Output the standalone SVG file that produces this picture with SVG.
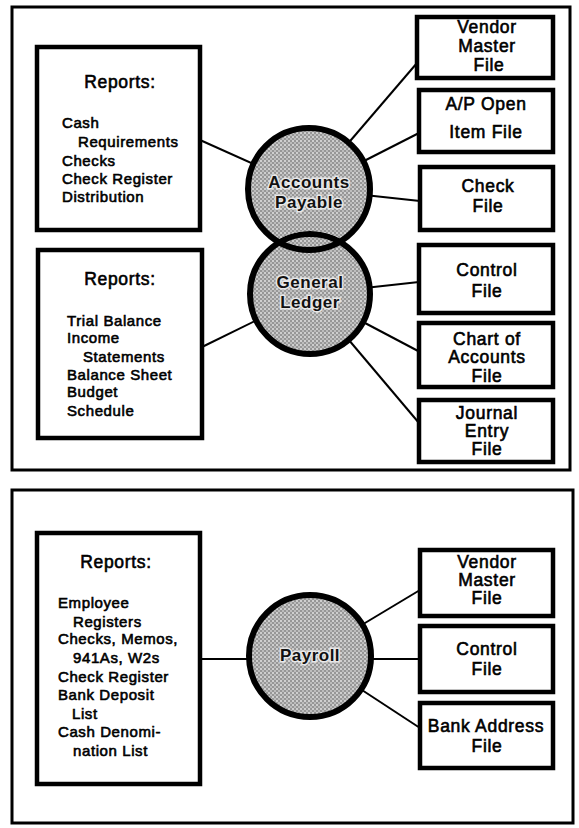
<svg xmlns="http://www.w3.org/2000/svg" width="579" height="828" viewBox="0 0 579 828">
<defs>
<pattern id="stip" width="4" height="4" patternUnits="userSpaceOnUse">
<rect width="4" height="4" fill="#979797"/>
<rect width="2" height="2" fill="#cfcfcf"/>
<rect x="2" y="2" width="2" height="2" fill="#bdbdbd"/>
</pattern>
<clipPath id="apClip"><path clip-rule="evenodd" d="M0 0H579V828H0Z M247 294 a63 63 0 1 0 126 0 a63 63 0 1 0 -126 0Z"/></clipPath>
</defs>
<style>
.panel{fill:none;stroke:#000;stroke-width:3}
.box{fill:#fff;stroke:#000;stroke-width:4.5}
.disc{fill:url(#stip);stroke:none}
.ring{fill:none;stroke:#000;stroke-width:6}
.conn line{stroke:#000;stroke-width:2}
text{font-family:"Liberation Sans",Arial,Helvetica,sans-serif;fill:#000;stroke:#000;stroke-width:0.6}
.h{font-size:17.5px;text-anchor:middle;letter-spacing:0.7px}
.l{font-size:15px;letter-spacing:0.6px}
.f{font-size:17.5px;text-anchor:middle;letter-spacing:0.7px}
.c{font-size:17px;font-weight:bold;text-anchor:middle;stroke:#e8e8e8;stroke-width:3;paint-order:stroke;letter-spacing:0.5px;fill:#111}
</style>
<rect width="579" height="828" fill="#fff"/>
<g id="panels">
<rect class="panel" x="12" y="7" width="558" height="463"/>
<rect class="panel" x="12" y="490" width="561" height="333"/>
</g>
<g id="connectors" class="conn">
<line x1="200" y1="140" x2="309" y2="189"/>
<line x1="417" y1="63" x2="309" y2="189"/>
<line x1="419" y1="133" x2="309" y2="189"/>
<line x1="420" y1="201" x2="309" y2="189"/>
<line x1="202" y1="347" x2="310" y2="294"/>
<line x1="419" y1="282" x2="310" y2="294"/>
<line x1="420" y1="352" x2="310" y2="294"/>
<line x1="419" y1="423" x2="310" y2="294"/>
<line x1="200" y1="659" x2="310" y2="659"/>
<line x1="420" y1="590" x2="310" y2="656"/>
<line x1="420" y1="659" x2="310" y2="659"/>
<line x1="420" y1="728" x2="310" y2="656"/>
</g>
<g id="reports-ap">
<rect class="box" x="37" y="47" width="163" height="183"/>
<text class="h" x="120" y="88">Reports:</text>
<text class="l" x="62" y="128">Cash</text>
<text class="l" x="78" y="147">Requirements</text>
<text class="l" x="62" y="166">Checks</text>
<text class="l" x="62" y="184">Check Register</text>
<text class="l" x="62" y="202">Distribution</text>
</g>
<g id="reports-gl">
<rect class="box" x="38" y="250" width="164" height="188"/>
<text class="h" x="120" y="285">Reports:</text>
<text class="l" x="67" y="326">Trial Balance</text>
<text class="l" x="67" y="343">Income</text>
<text class="l" x="83" y="362">Statements</text>
<text class="l" x="67" y="380">Balance Sheet</text>
<text class="l" x="67" y="397">Budget</text>
<text class="l" x="67" y="416">Schedule</text>
</g>
<g id="general-ledger">
<circle class="disc" cx="310" cy="294" r="60"/>
<circle class="ring" cx="310" cy="294" r="60"/>
<text class="c" x="310" y="288">General</text>
<text class="c" x="310" y="308">Ledger</text>
</g>
<g id="accounts-payable">
<circle class="disc" cx="309" cy="189" r="61" clip-path="url(#apClip)"/>
<circle class="ring" cx="309" cy="189" r="61"/>
<text class="c" x="309" y="188">Accounts</text>
<text class="c" x="309" y="208">Payable</text>
</g>
<g id="vendor-master-ap">
<rect class="box" x="417" y="17" width="136" height="61"/>
<text class="f" x="487" y="33">Vendor</text>
<text class="f" x="487" y="52">Master</text>
<text class="f" x="489" y="71">File</text>
</g>
<g id="ap-open-item">
<rect class="box" x="419" y="90" width="134" height="62"/>
<text class="f" x="486" y="110">A/P Open</text>
<text class="f" x="486" y="138">Item File</text>
</g>
<g id="check-file">
<rect class="box" x="420" y="167" width="133" height="63"/>
<text class="f" x="488" y="192">Check</text>
<text class="f" x="488" y="212">File</text>
</g>
<g id="control-file-gl">
<rect class="box" x="419" y="245" width="134" height="68"/>
<text class="f" x="487" y="276">Control</text>
<text class="f" x="487" y="297">File</text>
</g>
<g id="chart-of-accounts">
<rect class="box" x="419" y="323" width="134" height="64"/>
<text class="f" x="487" y="345">Chart of</text>
<text class="f" x="487" y="363">Accounts</text>
<text class="f" x="487" y="382">File</text>
</g>
<g id="journal-entry">
<rect class="box" x="419" y="400" width="134" height="62"/>
<text class="f" x="487" y="419">Journal</text>
<text class="f" x="487" y="437">Entry</text>
<text class="f" x="487" y="455">File</text>
</g>
<g id="reports-payroll">
<rect class="box" x="37" y="533" width="163" height="251"/>
<text class="h" x="116" y="568">Reports:</text>
<text class="l" x="58" y="608">Employee</text>
<text class="l" x="73" y="627">Registers</text>
<text class="l" x="58" y="644">Checks, Memos,</text>
<text class="l" x="73" y="663">941As, W2s</text>
<text class="l" x="58" y="682">Check Register</text>
<text class="l" x="58" y="700">Bank Deposit</text>
<text class="l" x="72" y="719">List</text>
<text class="l" x="58" y="737">Cash Denomi-</text>
<text class="l" x="73" y="756">nation List</text>
</g>
<g id="payroll">
<circle class="disc" cx="310" cy="656" r="61"/>
<circle class="ring" cx="310" cy="656" r="61"/>
<text class="c" x="310" y="661">Payroll</text>
</g>
<g id="vendor-master-pr">
<rect class="box" x="420" y="550" width="133" height="66"/>
<text class="f" x="487" y="568">Vendor</text>
<text class="f" x="487" y="586">Master</text>
<text class="f" x="487" y="604">File</text>
</g>
<g id="control-file-pr">
<rect class="box" x="420" y="626" width="133" height="66"/>
<text class="f" x="487" y="655">Control</text>
<text class="f" x="487" y="675">File</text>
</g>
<g id="bank-address">
<rect class="box" x="420" y="703" width="133" height="65"/>
<text class="f" x="486" y="732">Bank Address</text>
<text class="f" x="487" y="752">File</text>
</g>
</svg>
